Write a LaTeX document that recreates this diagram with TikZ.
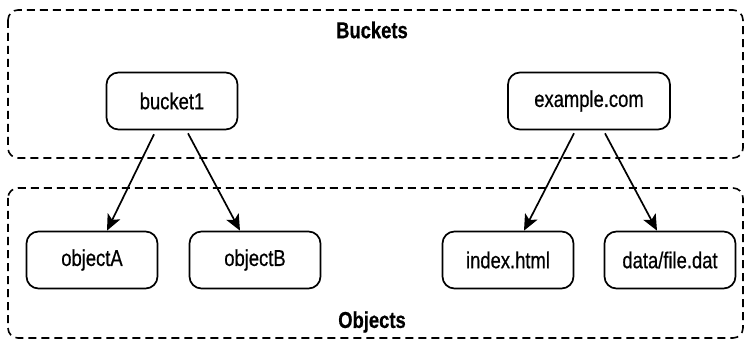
\documentclass[tikz,border=0pt]{standalone}
\usepackage{fontspec}
\setmainfont[FakeStretch=0.8, FakeBold=0.6]{Liberation Sans}
\usetikzlibrary{arrows.meta}
\tikzset{
  item/.style={draw, line width=1.7pt, rounded corners=12pt, minimum width=131pt, minimum height=57pt, font=\fontsize{23}{27}\selectfont},
  group/.style={draw, line width=1.6pt, dash pattern=on 8pt off 5pt, rounded corners=10pt},
  title/.style={font=\fontsize{23}{27}\selectfont\bfseries},
  link/.style={line width=1.7pt, -{Stealth[length=16pt, width=14pt, inset=4pt]}}
}
\begin{document}
\begin{tikzpicture}[x=1pt, y=-1pt]
    \useasboundingbox (0,0) rectangle (745,342);
    \draw[group] (8,10) rectangle (743,158);
    \draw[group] (8,188) rectangle (743,338);
    \node[title] (buckets) at (372,30) {Buckets};
    \node[title] (objects) at (372,322) {Objects};
    \node[item] (bucket1) at (172,101) {bucket1};
    \node[item, minimum width=162pt] (example) at (589,101) {example.com};
    \node[item] (objA) at (92,260) {objectA};
    \node[item] (objB) at (255,260) {objectB};
    \node[item] (index) at (508,260) {index.html};
    \node[item] (datafile) at (670,260) {data/file.dat};
    \draw[link] ([xshift=-18pt, yshift=-4pt]bucket1.south) -- ([xshift=15pt]objA.north);
    \draw[link] ([xshift=16pt, yshift=-3pt]bucket1.south) -- ([xshift=-15pt]objB.north);
    \draw[link] ([xshift=-15pt, yshift=-3pt]example.south) -- ([xshift=16pt]index.north);
    \draw[link] ([xshift=16pt, yshift=-3pt]example.south) -- ([xshift=-13pt]datafile.north);
\end{tikzpicture}
\end{document}
